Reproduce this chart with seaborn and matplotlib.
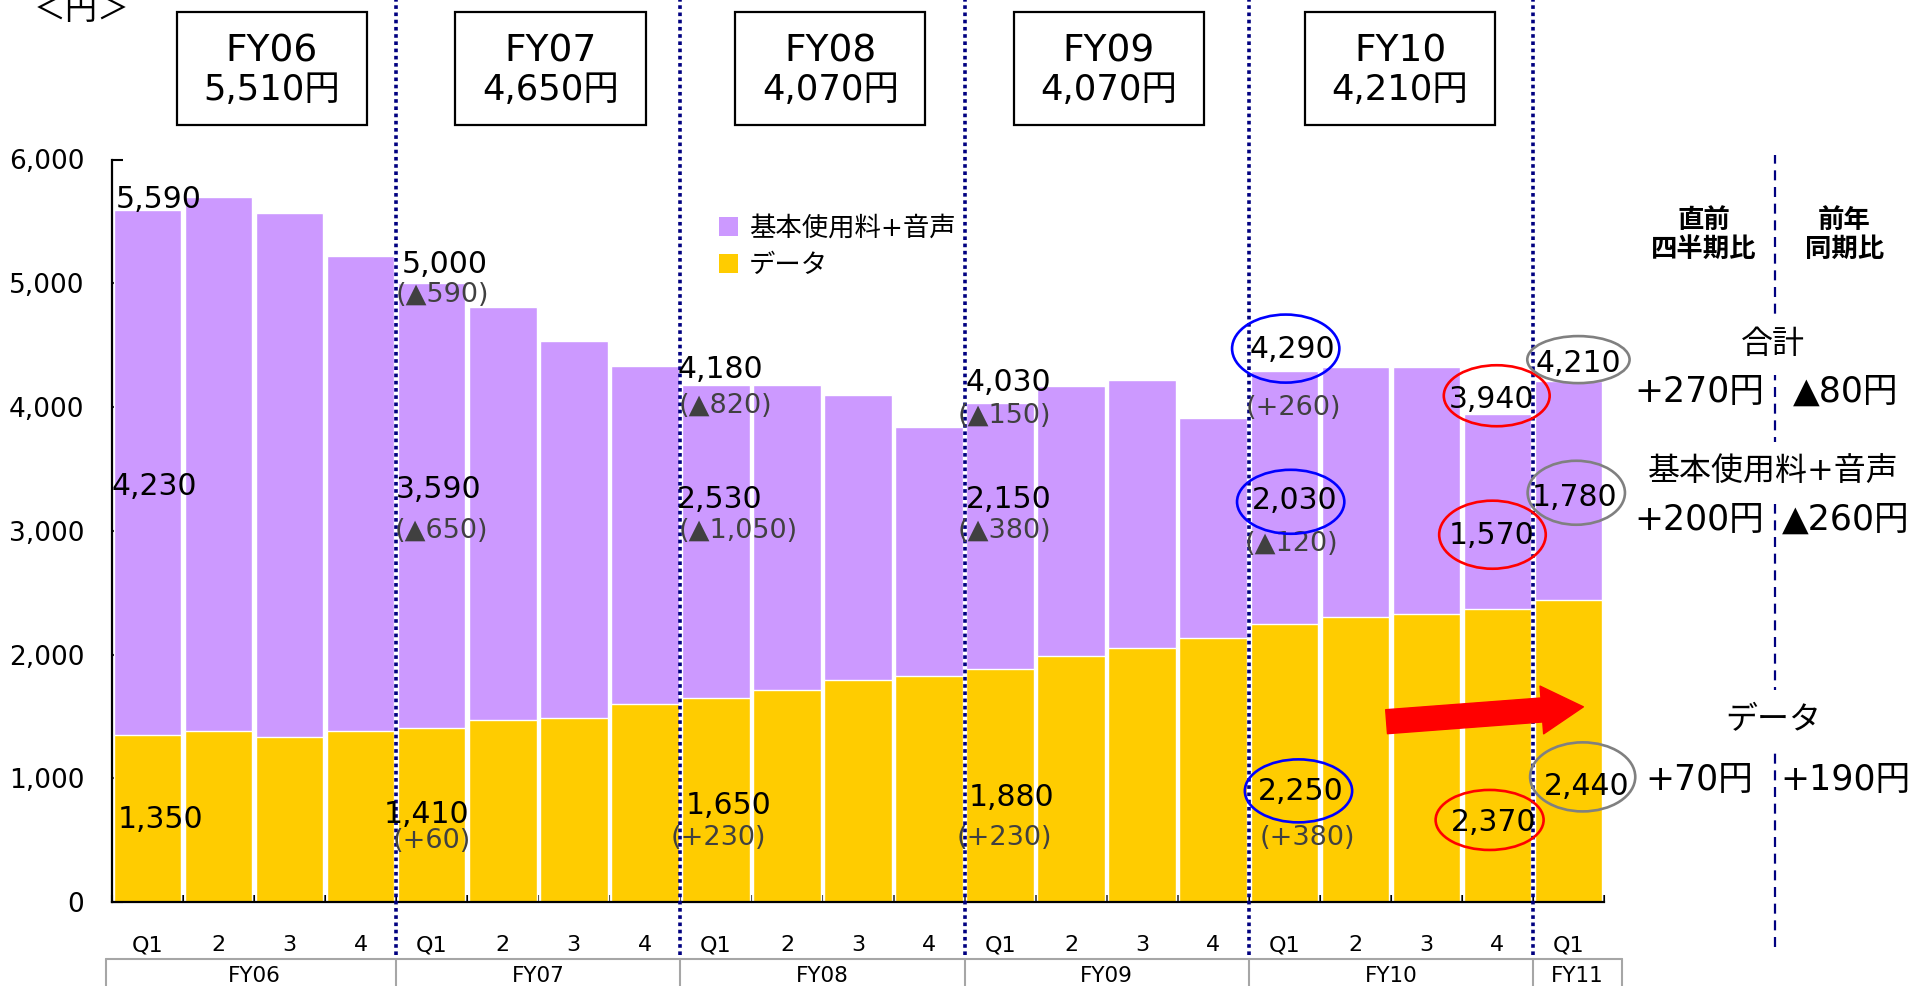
import numpy as np
import pandas as pd
import matplotlib
matplotlib.use("Agg")
import matplotlib.pyplot as plt
import seaborn as sns
from matplotlib.patches import Ellipse, Rectangle, Patch
from matplotlib.ticker import FuncFormatter

# ---------------- data ----------------
fiscal_years = ["FY06", "FY07", "FY08", "FY09", "FY10", "FY11"]
quarters_per_year = [4, 4, 4, 4, 4, 1]
quarter_labels = ["Q1", "2", "3", "4"] * 5 + ["Q1"]

# ARPU per quarter (yen): total, data, basic fee + voice
total_arpu = [5590, 5700, 5570, 5220, 5000, 4810, 4530, 4330, 4180, 4180, 4100,
              3840, 4030, 4170, 4220, 3910, 4290, 4320, 4320, 3940, 4210]
data_arpu = [1350, 1380, 1330, 1380, 1410, 1470, 1490, 1600, 1650, 1710, 1790,
             1830, 1880, 1990, 2050, 2130, 2250, 2300, 2330, 2370, 2440]
basic_voice_arpu = [4230, 4320, 4240, 3840, 3590, 3340, 3040, 2730, 2530, 2470, 2310,
                    2010, 2150, 2180, 2170, 1780, 2030, 2020, 1990, 1570, 1780]

# annual averages shown in the header boxes
annual_avg = [5510, 4650, 4070, 4070, 4210]

# year-on-year change of each Q1 (FY07..FY10)
total_yoy = [-590, -820, -150, 260]
basic_yoy = [-650, -1050, -380, -120]
data_yoy = [60, 230, 230, 380]

# latest quarter comparison: (vs previous quarter, vs same quarter last year)
cmp_total = (270, -80)
cmp_basic = (200, -260)
cmp_data = (70, 190)

labeled_idx = [0, 4, 8, 12, 16, 19, 20]
yoy_idx = [4, 8, 12, 16]

# ---------------- style ----------------
sns.set_theme(style="white")
plt.rcParams["font.family"] = ["DejaVu Sans", "Noto Sans CJK JP"]
plt.rcParams["axes.unicode_minus"] = False
plt.rcParams["text.color"] = "black"
plt.rcParams["xtick.color"] = "black"
plt.rcParams["ytick.color"] = "black"

PURPLE = "#CC99FF"
YELLOW = "#FFCC00"
NAVY = "#000080"
GRAYTXT = "#404040"

def fmt_num(v):
    return f"{v:,}"

def fmt_chg(v):
    return f"(▲{abs(v):,})" if v < 0 else f"(+{v:,})"

def fmt_yen(v):
    return f"▲{abs(v):,}円" if v < 0 else f"+{v:,}円"

slots = []
for fy, cnt in zip(fiscal_years, quarters_per_year):
    for k in range(cnt):
        slots.append(f"{fy}-{k + 1}")
df = pd.DataFrame({"slot": slots, "total": total_arpu, "data": data_arpu})
n = len(df)

W, H = 1909, 986
fig = plt.figure(figsize=(W / 100, H / 100), dpi=100)
ax = fig.add_axes([112 / W, 1 - 902 / H, (1604 - 112) / W, (902 - 159.5) / H])

sns.barplot(data=df, x="slot", y="total", color=PURPLE, saturation=1, width=0.95,
            errorbar=None, ax=ax, zorder=1)
sns.barplot(data=df, x="slot", y="data", color=YELLOW, saturation=1, width=0.95,
            errorbar=None, ax=ax, zorder=1)

ax.set_xlim(-0.5, n - 0.5)
ax.set_ylim(0, 6000)
ax.set_xlabel("")
ax.set_ylabel("")

# axes
for s in ["top", "right"]:
    ax.spines[s].set_visible(False)
for s in ["left", "bottom"]:
    ax.spines[s].set_color("black")
    ax.spines[s].set_linewidth(1.6)

ax.set_yticks(range(0, 6001, 1000))
ax.yaxis.set_major_formatter(FuncFormatter(lambda v, _: f"{int(v):,}"))
ax.tick_params(axis="y", which="major", direction="in", left=True, length=8,
               width=1.5, pad=20, labelsize=19)

ax.set_xticks(range(n))
ax.set_xticklabels(quarter_labels)
ax.tick_params(axis="x", which="major", length=0, pad=24, labelsize=16)
ax.set_xticks(np.arange(-0.5, n, 1.0), minor=True)
ax.tick_params(axis="x", which="minor", direction="in", bottom=True, length=5,
               width=1.5)

xtr = ax.get_xaxis_transform()

# fiscal-year separators
for b in [3.5, 7.5, 11.5, 15.5, 19.5]:
    ax.axvline(b, ymin=-0.071, ymax=1.215, color=NAVY, lw=2.6,
               linestyle=(0, (1, 1.0)), clip_on=False, zorder=3)

# fiscal-year table under the quarter labels
tbl_top, tbl_bot = -0.0768, -0.13
tbl_edges = [-0.585, 3.5, 7.5, 11.5, 15.5, 19.5, 20.75]
ax.plot([tbl_edges[0], tbl_edges[-1]], [tbl_top, tbl_top], transform=xtr,
        color="#A6A6A6", lw=1.5, clip_on=False)
for xb in tbl_edges:
    ax.plot([xb, xb], [tbl_top, tbl_bot], transform=xtr, color="#A6A6A6",
            lw=1.5, clip_on=False)
fy_centers = [1.5, 5.5, 9.5, 13.5, 17.5, 20.12]
for fy, cx in zip(fiscal_years, fy_centers):
    ax.text(cx, -0.0997, fy, transform=xtr, ha="center", va="center", fontsize=15.5)

# header boxes with annual averages
box_cx = [1.75, 5.67, 9.61, 13.53, 17.63]
for fy, avg, cx in zip(fiscal_years[:5], annual_avg, box_cx):
    ax.add_patch(Rectangle((cx - 1.34, 1.0465), 2.68, 0.1522, transform=xtr,
                           fill=False, edgecolor="black", lw=1.6, clip_on=False))
    ax.text(cx, 1.1448, fy, transform=xtr, ha="center", va="center", fontsize=27)
    ax.text(cx, 1.0936, f"{avg:,}円", transform=xtr, ha="center", va="center",
            fontsize=25.5)

fig.text(82 / W, 1 - 19 / H, "＜円＞", ha="center", va="baseline", fontsize=23)

# legend
handles = [Patch(facecolor=PURPLE, edgecolor="none", label="基本使用料+音声"),
           Patch(facecolor=YELLOW, edgecolor="none", label="データ")]
ax.legend(handles=handles, loc="upper left", bbox_to_anchor=(0.407, 0.924),
          frameon=False, fontsize=19, handlelength=0.72, handleheight=0.72,
          handletextpad=0.4, labelspacing=0.4, borderpad=0, borderaxespad=0)

# value labels
total_lbl_pos = [(0.15, 5676), (4.18, 5151), (8.06, 4302), (12.12, 4196),
                 (16.12, 4463), (18.92, 4060), (20.14, 4350)]
basic_lbl_pos = [(0.09, 3358), (4.10, 3331), (8.06, 3254), (12.12, 3254),
                 (16.15, 3245), (18.92, 2963), (20.09, 3267)]
data_lbl_pos = [(0.18, 663), (3.93, 705), (8.18, 780), (12.16, 841),
                (16.23, 890), (18.94, 642), (20.25, 932)]
for i, (tp, bp, dp) in zip(labeled_idx, zip(total_lbl_pos, basic_lbl_pos, data_lbl_pos)):
    ax.text(*tp, fmt_num(total_arpu[i]), ha="center", va="center", fontsize=21.5, zorder=5)
    ax.text(*bp, fmt_num(basic_voice_arpu[i]), ha="center", va="center", fontsize=21.5, zorder=5)
    ax.text(*dp, fmt_num(data_arpu[i]), ha="center", va="center", fontsize=21.5, zorder=5)

total_chg_pos = [(4.15, 4908), (8.13, 4005), (12.06, 3925), (16.13, 3995)]
basic_chg_pos = [(4.14, 2994), (8.31, 2999), (12.06, 2999), (16.10, 2895)]
data_chg_pos = [(4.00, 495), (8.04, 517), (12.06, 517), (16.32, 517)]
for k in range(len(yoy_idx)):
    ax.text(*total_chg_pos[k], fmt_chg(total_yoy[k]), ha="center", va="center",
            fontsize=19.5, color=GRAYTXT, zorder=5)
    ax.text(*basic_chg_pos[k], fmt_chg(basic_yoy[k]), ha="center", va="center",
            fontsize=19.5, color=GRAYTXT, zorder=5)
    ax.text(*data_chg_pos[k], fmt_chg(data_yoy[k]), ha="center", va="center",
            fontsize=19.5, color=GRAYTXT, zorder=5)

# highlight rings
rings = [
    ((16.02, 4472), 1.51, 550, "#0000FF"),
    ((16.09, 3234), 1.51, 517, "#0000FF"),
    ((16.20, 898), 1.51, 509, "#0000FF"),
    ((18.99, 4091), 1.49, 493, "#FF0000"),
    ((18.93, 2968), 1.50, 550, "#FF0000"),
    ((18.89, 663), 1.52, 485, "#FF0000"),
    ((20.14, 4383), 1.44, 380, "#808080"),
    ((20.11, 3307), 1.37, 517, "#808080"),
    ((20.20, 1011), 1.48, 558, "#808080"),
]
for c, w, h, col in rings:
    ax.add_patch(Ellipse(c, w, h, fill=False, edgecolor=col, lw=1.9,
                         clip_on=False, zorder=6))

# trend arrow
ax.annotate("", xy=(20.21, 1577), xytext=(17.44, 1457),
            arrowprops=dict(arrowstyle="simple,head_length=3.0,head_width=3.45,tail_width=1.73",
                            color="#FF0000", shrinkA=0, shrinkB=0, mutation_scale=10),
            zorder=5, annotation_clip=False)

# comparison panel on the right
ax.axvline(22.90, ymin=-0.0606, ymax=1.006, color=NAVY, lw=1.6,
           linestyle=(0, (4.5, 3)), clip_on=False, zorder=2)
ax.text(21.90, 5385, "直前\n四半期比", ha="center", va="center", fontsize=19,
        fontweight="bold", linespacing=1.15)
ax.text(23.88, 5385, "前年\n同期比", ha="center", va="center", fontsize=19,
        fontweight="bold", linespacing=1.15)

white_box = dict(facecolor="white", edgecolor="none", pad=11)
panel = [("合計", 4504, cmp_total, 4124),
         ("基本使用料+音声", 3469, cmp_basic, 3089),
         ("データ", 1464, cmp_data, 986)]
for title, ty, (qoq, yoy), vy in panel:
    ax.text(22.88, ty, title, ha="center", va="center", fontsize=23, bbox=white_box, zorder=4)
    ax.text(21.84, vy, fmt_yen(qoq), ha="center", va="center", fontsize=25, zorder=4)
    ax.text(23.90, vy, fmt_yen(yoy), ha="center", va="center", fontsize=25, zorder=4)

fig.savefig("out.png", dpi=100)
